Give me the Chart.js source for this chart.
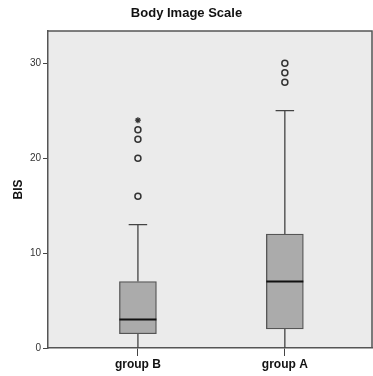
<!DOCTYPE html>
<html>
<head>
<meta charset="utf-8">
<script src="https://cdn.jsdelivr.net/npm/chart.js@4.4.1/dist/chart.umd.min.js"></script>
<style>
  body { margin: 0; background: #ffffff; }
  canvas { display: block; }
</style>
</head>
<body>
<canvas id="myChart" width="373" height="376"></canvas>
<script>
// box plot values
var groups = ["group B", "group A"];
var groupPos = [1, 2];
var whiskerLow = [0, 0];
var q1 = [1.5, 2];
var median = [3, 7];
var q3 = [7, 12];
var whiskerHigh = [13, 25];
var outlierB = [16, 20, 22, 23];
var extremeB = [24];
var outlierA = [28, 29, 30];
var yTicks = [0, 10, 20, 30];

var boxWidth = 37;

var boxData = [];
groupPos.map(function (x, i) {
    boxData.push({ x: x, y: [q1[i], q3[i]] });
});
var circles = [];
outlierB.map(function (v) { circles.push({ x: groupPos[0], y: v }); });
outlierA.map(function (v) { circles.push({ x: groupPos[1], y: v }); });
var stars = [];
extremeB.map(function (v) { stars.push({ x: groupPos[0], y: v }); });

// plot background + frame, whiskers and medians
var boxPlugin = {
    id: "boxPlugin",
    beforeDatasetsDraw: function (chart) {
        var ctx = chart.ctx;
        var xs = chart.scales.x, ys = chart.scales.y;
        ctx.save();
        ctx.strokeStyle = "#444";
        ctx.lineWidth = 1.3;
        groupPos.map(function (g, i) {
            var px = xs.getPixelForValue(g);
            ctx.beginPath();
            ctx.moveTo(px, ys.getPixelForValue(q3[i]));
            ctx.lineTo(px, ys.getPixelForValue(whiskerHigh[i]));
            ctx.moveTo(px, ys.getPixelForValue(q1[i]));
            ctx.lineTo(px, ys.getPixelForValue(whiskerLow[i]));
            var hy = ys.getPixelForValue(whiskerHigh[i]);
            ctx.moveTo(px - boxWidth / 4, hy);
            ctx.lineTo(px + boxWidth / 4, hy);
            ctx.stroke();
        });
        ctx.restore();
    },
    afterDatasetsDraw: function (chart) {
        var ctx = chart.ctx, a = chart.chartArea;
        var xs = chart.scales.x, ys = chart.scales.y;
        ctx.save();
        ctx.strokeStyle = "#111";
        ctx.lineWidth = 2;
        groupPos.map(function (g, i) {
            var px = xs.getPixelForValue(g);
            var my = ys.getPixelForValue(median[i]);
            ctx.beginPath();
            ctx.moveTo(px - boxWidth / 2, my);
            ctx.lineTo(px + boxWidth / 2, my);
            ctx.stroke();
        });
        ctx.strokeStyle = "#555";
        ctx.lineWidth = 1.5;
        ctx.beginPath();
        ctx.moveTo(a.left, a.top);
        ctx.lineTo(a.right - 1, a.top);
        ctx.lineTo(a.right - 1, a.bottom);
        ctx.stroke();
        ctx.restore();
    },
    beforeDraw: function (chart) {
        var ctx = chart.ctx, a = chart.chartArea;
        ctx.save();
        ctx.fillStyle = "#ebebeb";
        ctx.fillRect(a.left, a.top, a.right - a.left, a.bottom - a.top);
        ctx.restore();
    }
};

new Chart("myChart", {
    type: "bar",
    data: {
        datasets: [{
            type: "bar",
            data: boxData,
            backgroundColor: "#ababab",
            borderColor: "#555",
            borderWidth: 1.3,
            borderSkipped: false,
            barThickness: boxWidth
        }, {
            type: "scatter",
            data: circles,
            pointStyle: "circle",
            pointRadius: 3,
            pointBorderWidth: 1.5,
            pointBorderColor: "#333",
            pointBackgroundColor: "#ebebeb"
        }, {
            type: "scatter",
            data: stars,
            pointStyle: "star",
            pointRadius: 3,
            pointBorderWidth: 1.3,
            pointBorderColor: "#333"
        }]
    },
    options: {
        responsive: false,
        animation: false,
        layout: { padding: { left: 0, right: 0, top: 0, bottom: 0 }, autoPadding: false },
        plugins: {
            legend: { display: false },
            tooltip: { enabled: false },
            title: {
                display: true,
                text: "Body Image Scale",
                color: "#111",
                font: { family: "Liberation Sans, Arial", size: 13, weight: "bold" },
                padding: { top: 6, bottom: 9.4 }
            }
        },
        scales: {
            x: {
                type: "linear",
                offset: false,
                min: 0.388,
                max: 2.6,
                afterBuildTicks: function (scale) {
                    scale.ticks = groupPos.map(function (v) { return { value: v }; });
                },
                afterFit: function (scale) { scale.height = 28; },
                ticks: {
                    callback: function (v) { return groups[groupPos.indexOf(v)]; },
                    color: "#111",
                    font: { family: "Liberation Sans, Arial", size: 12, weight: "bold" },
                    padding: 1,
                    maxRotation: 0
                },
                grid: { offset: false, drawOnChartArea: false, drawTicks: true, tickLength: 8, color: "#444" },
                border: { display: true, color: "#555", width: 1.5 }
            },
            y: {
                min: 0,
                max: 33.4,
                afterBuildTicks: function (scale) {
                    scale.ticks = yTicks.map(function (v) { return { value: v }; });
                },
                afterFit: function (scale) { scale.width = 48; },
                ticks: {
                    color: "#333",
                    font: { family: "Liberation Sans, Arial", size: 10 },
                    padding: 2
                },
                grid: { drawOnChartArea: false, drawTicks: true, tickLength: 5, color: "#444" },
                border: { display: true, color: "#555", width: 1.5 },
                title: {
                    display: true,
                    text: "BIS",
                    color: "#111",
                    font: { family: "Liberation Sans, Arial", size: 12, weight: "bold" },
                    padding: { top: 11, bottom: 0 }
                }
            }
        }
    },
    plugins: [boxPlugin]
});
</script>
</body>
</html>
